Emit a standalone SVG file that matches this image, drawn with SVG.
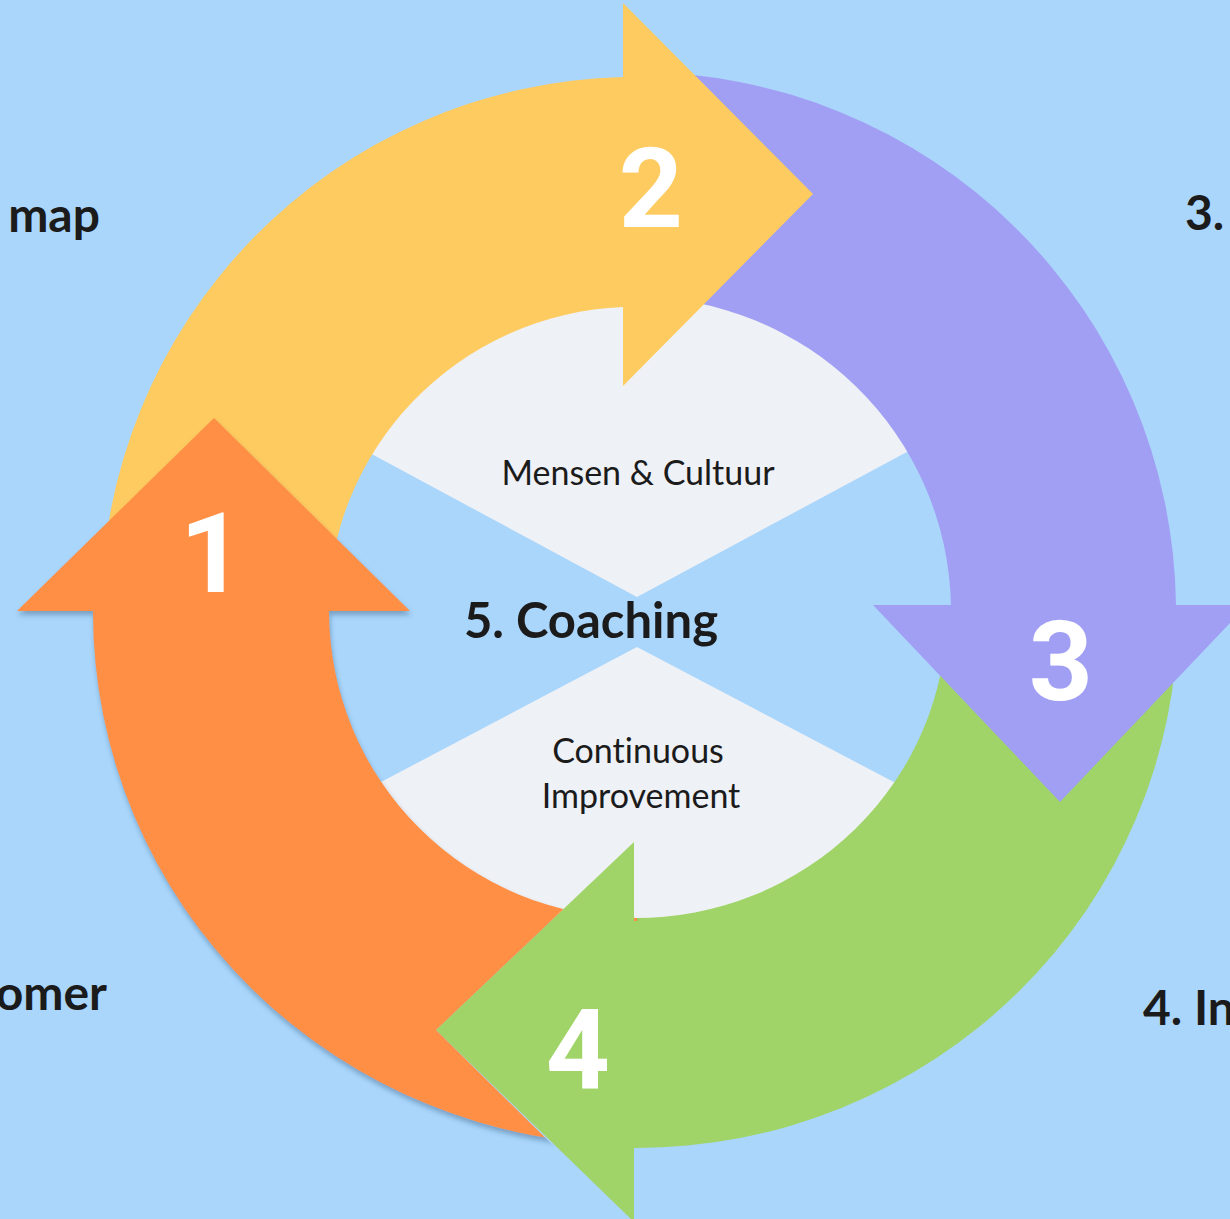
<svg xmlns="http://www.w3.org/2000/svg" width="1230" height="1219" viewBox="0 0 1230 1219">
  <style>
    .lbl { font-family: Lato, "Open Sans", "Liberation Sans", sans-serif; fill: #1b1b1b; font-variant-ligatures: none; }
    .num { font-family: Roboto, "Liberation Sans", sans-serif; font-weight: 700; font-size: 112px; fill: #ffffff; text-anchor: middle; }
    .out { font-weight: 700; font-size: 48px; }
    .inner { font-size: 34px; text-anchor: middle; }
  </style>
  <defs>
    <filter id="shadow" x="-10%" y="-10%" width="130%" height="130%">
      <feDropShadow dx="1" dy="4" stdDeviation="2.5" flood-color="#1d3a5c" flood-opacity="0.35"/>
    </filter>
    <clipPath id="notGreenHead" clipPathUnits="userSpaceOnUse">
      <path clip-rule="evenodd" d="M-50 -50H1280V1270H-50Z M436 1030 L634 842 L634 921 L720 921 L720 1225 L634 1225 Z"/>
    </clipPath>
  </defs>

  <rect width="1230" height="1219" fill="#aad6fc"/>

  <g id="outer-labels">
    <text class="lbl out" x="100" y="232" text-anchor="end">map</text>
    <text class="lbl out" x="1185" y="230">3.</text>
    <text class="lbl out" x="107" y="1010" text-anchor="end">omer</text>
    <text class="lbl out" x="1143" y="1025">4. In</text>
  </g>

  <g id="center">
    <circle cx="638" cy="612" r="318" fill="#eef1f6"/>
    <polygon points="290,410 637,597 985,410 985,830 637,647 290,830" fill="#aad6fc"/>
    <text class="lbl inner" x="638" y="485">Mensen &amp; Cultuur</text>
    <text class="lbl" x="591" y="638" font-size="49" font-weight="700" text-anchor="middle">5. Coaching</text>
    <text class="lbl inner" x="638" y="763">Continuous</text>
    <text class="lbl inner" x="641" y="808">Improvement</text>
  </g>

  <g id="connectors">
    <g id="arrow-4">
      <path fill="#a0d468" d="M1178 612 A542 536 0 0 1 634 1148 L634 1222 L436 1030 L634 842 L634 918 A311 306 0 0 0 947 612 Z"/>
      <text class="num" x="578" y="1088">4</text>
    </g>
    <g id="arrow-3">
      <path fill="#a19ff3" d="M636 72 A540 540 0 0 1 1176 605 L1247 605 L1060 802 L873 605 L951 605 A315 315 0 0 0 636 297 Z"/>
      <text class="num" x="1061" y="700">3</text>
    </g>
    <g id="arrow-2">
      <path fill="#fecb60" d="M101 612 A535 535 0 0 1 623 77 L623 3 L813 194 L623 386 L623 307 A308 305 0 0 0 328 612 Z"/>
      <text class="num" x="651" y="227">2</text>
    </g>
    <g id="arrow-1" clip-path="url(#notGreenHead)">
      <path fill="#ff8f45" filter="url(#shadow)" d="M93 611 A543 533 0 0 0 637 1145 L637 918 A308 307 0 0 1 329 611 L410 611 L214 418 L17 611 Z"/>
      <text class="num" x="212" y="592">1</text>
    </g>
  </g>
</svg>
